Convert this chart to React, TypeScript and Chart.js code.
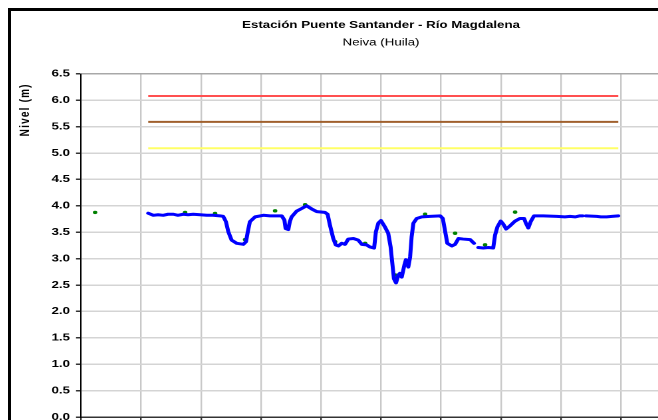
import React, { useEffect, useRef } from 'react';
import { Chart, registerables } from 'chart.js';

Chart.register(...registerables);

const TITLE = 'Estación Puente Santander - Río Magdalena';
const SUBTITLE = 'Neiva (Huila)';
const Y_TITLE = 'Nivel (m)';

// x axis: days from the first gridline, gridline every 2 days
const xRange = [0, 20];
const xStep = 2;
const yRange = [0, 6.5];
const yStep = 0.5;

// continuous level record (null = gap in record)
const levelDays = [
  2.24, 2.41, 2.57, 2.74, 2.9, 3.08, 3.23, 3.41, 3.57, 3.74, 3.97, 4.19, 4.4, 4.63, 4.74,
  4.83, 4.91, 5.02, 5.19, 5.41, 5.5, 5.56, 5.63, 5.8, 6.08, 6.3, 6.47, 6.69, 6.78, 6.82,
  6.91, 6.96, 7.02, 7.19, 7.36, 7.52, 7.69, 7.86, 8.13, 8.22, 8.3, 8.41, 8.49, 8.58, 8.69,
  8.8, 8.91, 9.08, 9.24, 9.36, 9.52, 9.63, 9.77, 9.83, 9.91, 10.0, 10.13, 10.24, 10.32,
  10.39, 10.43, 10.5, 10.58, 10.63, 10.69, 10.78, 10.83, 10.91, 10.97, 11.02, 11.08, 11.19,
  11.36, 11.63, 11.97, 12.06, 12.13, 12.21, 12.36, 12.47, 12.58, 12.74, 12.97, 13.1,
  13.17,
  13.24, 13.41, 13.58, 13.74, 13.8, 13.88, 13.99, 14.08, 14.17, 14.3, 14.47, 14.63, 14.77,
  14.83, 14.91, 14.99, 15.1, 15.41, 15.86, 16.13, 16.3, 16.47, 16.63, 16.72,
  16.78,
  16.83, 17.19, 17.33, 17.52, 17.7, 17.91,
];
const levelValues = [
  3.86, 3.82, 3.83, 3.82, 3.84, 3.84, 3.82, 3.84, 3.83, 3.84, 3.83, 3.82, 3.82, 3.81, 3.8,
  3.7, 3.51, 3.35, 3.29, 3.27, 3.32, 3.51, 3.7, 3.79, 3.82, 3.81, 3.81, 3.81, 3.73, 3.57,
  3.55, 3.7, 3.79, 3.9, 3.95, 4.0, 3.94, 3.89, 3.875, 3.84, 3.63, 3.38, 3.26, 3.24, 3.29,
  3.27, 3.37, 3.38, 3.35, 3.27, 3.26, 3.22, 3.2, 3.51, 3.67, 3.72, 3.6, 3.48, 3.22,
  2.84, 2.62, 2.54, 2.69, 2.72, 2.65, 2.88, 2.98, 2.84, 3.03, 3.41, 3.67, 3.76,
  3.79, 3.8, 3.81, 3.76, 3.54, 3.29, 3.24, 3.27, 3.38, 3.37, 3.36, 3.29,
  null,
  3.21, 3.2, 3.21, 3.2, 3.44, 3.6, 3.71, 3.65, 3.56, 3.62, 3.71, 3.76, 3.76,
  3.67, 3.58, 3.7, 3.81, 3.81, 3.8, 3.79, 3.8, 3.79, 3.81, 3.81,
  null,
  3.81, 3.8, 3.79, 3.79, 3.8, 3.81,
];

// daily manual readings
const readingDays = [0.47, 3.47, 4.47, 5.47, 6.47, 7.47, 8.47, 9.47, 10.47, 11.47, 12.47, 13.47, 14.47];
const readingValues = [3.875, 3.875, 3.855, 3.36, 3.905, 4.02, 3.32, 3.29, 2.69, 3.84, 3.48, 3.26, 3.88];

// alert thresholds
const thresholdValues = [6.08, 5.59, 5.09];
const thresholdColors = ['#FF5050', '#A0602D', '#FFFF66'];
const thresholdSpan = [2.24, 17.91];

const FONT = '"Liberation Sans", Arial, Helvetica, sans-serif';
const STRETCH = 1.33;

const axisTitlePlugin = {
  id: 'axisTitleCustom',
  afterDraw(chart: any) {
    const { ctx, chartArea } = chart;
    ctx.save();
    ctx.font = `bold 10px ${FONT}`;
    try { (ctx as any).letterSpacing = '1.2px'; } catch (e) { /* ignore */ }
    ctx.fillStyle = '#000';
    ctx.textAlign = 'center';
    ctx.textBaseline = 'middle';
    ctx.translate(10.8, chartArea.top + 36);
    ctx.rotate(-Math.PI / 2);
    ctx.fillText(Y_TITLE, 0, 0);
    ctx.restore();
  },
};

export default function App() {
  const ref = useRef<HTMLCanvasElement>(null);

  useEffect(() => {
    document.documentElement.style.overflow = 'hidden';
    document.body.style.overflow = 'hidden';
    const canvas = ref.current;
    if (!canvas) return;

    const levelData = levelDays.map((x, i) => ({ x, y: levelValues[i] }));
    const readingData = readingDays.map((x, i) => ({ x, y: readingValues[i] }));
    const thresholdSets = thresholdValues.map((v, i) => ({
      label: 'Umbral ' + (i + 1),
      data: thresholdSpan.map((x) => ({ x, y: v })),
      showLine: true,
      borderColor: thresholdColors[i],
      backgroundColor: thresholdColors[i],
      borderWidth: 2,
      pointRadius: 0,
      order: 2,
    }));

    const chart = new Chart(canvas, {
      type: 'scatter',
      data: {
        datasets: [
          {
            label: 'Nivel',
            data: levelData as any,
            showLine: true,
            spanGaps: false,
            borderColor: '#0000FF',
            backgroundColor: '#0000FF',
            borderWidth: 3,
            pointRadius: 0,
            tension: 0,
            borderJoinStyle: 'round',
            borderCapStyle: 'round',
            order: 0,
          },
          {
            label: 'Lectura',
            data: readingData,
            showLine: false,
            pointRadius: 1.7,
            pointBorderWidth: 0,
            backgroundColor: '#008000',
            borderColor: '#008000',
            order: 1,
          },
          ...thresholdSets,
        ] as any,
      },
      options: {
        animation: false,
        responsive: false,
        devicePixelRatio: 2,
        layout: { padding: { left: 0, right: 56.24, top: 0, bottom: 0 } },
        plugins: {
          legend: { display: false },
          tooltip: { enabled: false },
          title: {
            display: true,
            text: TITLE,
            fullSize: false,
            color: '#000',
            font: { family: FONT, size: 10, weight: 'bold', lineHeight: 1.2 },
            padding: { top: 8, bottom: 0 },
          },
          subtitle: {
            display: true,
            text: SUBTITLE,
            fullSize: false,
            color: '#000',
            font: { family: FONT, size: 10, weight: 'normal', lineHeight: 1.2 },
            padding: { top: 5.5, bottom: 25.3 },
          },
        },
        scales: {
          x: {
            type: 'linear',
            min: xRange[0],
            max: xRange[1],
            afterFit: (scale: any) => { scale.height = 40; },
            ticks: { stepSize: xStep, display: false },
            grid: { color: '#c8c8c8', lineWidth: 1.2, tickLength: 5, tickColor: '#333', drawTicks: true },
            border: { color: '#333', width: 1.5 },
          },
          y: {
            type: 'linear',
            min: yRange[0],
            max: yRange[1],
            afterFit: (scale: any) => { scale.width = 52.63; },
            ticks: {
              stepSize: yStep,
              padding: 4.5,
              color: '#000',
              font: { family: FONT, size: 10, weight: 'bold' },
              callback: (v: any) => Number(v).toFixed(1),
            },
            grid: {
              color: (c: any) => (c.tick && c.tick.value === yRange[1] ? '#a8a8a8' : '#d4d4d4'),
              lineWidth: 1.5,
              tickLength: 3.76,
              tickColor: '#333',
            },
            border: { color: '#000', width: 1 },
          },
        },
      },
      plugins: [axisTitlePlugin],
    });
    return () => chart.destroy();
  }, []);

  return (
    <div
      style={{
        position: 'fixed',
        left: 8,
        top: 8,
        width: 760,
        height: 470,
        border: '3px solid #000',
        background: '#fff',
        overflow: 'hidden',
      }}
    >
      <div style={{ transform: `scaleX(${STRETCH})`, transformOrigin: '0 0', width: 560, height: 446 }}>
        <canvas ref={ref} width={560} height={446} style={{ display: 'block' }} />
      </div>
    </div>
  );
}
